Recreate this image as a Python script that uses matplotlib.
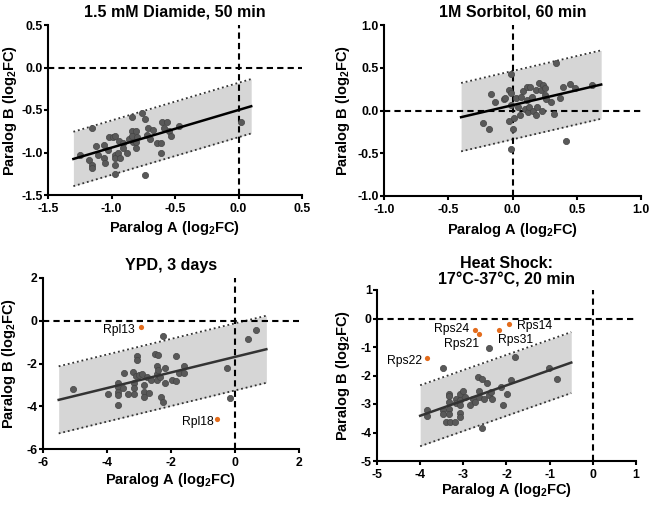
import matplotlib
matplotlib.use("Agg")
import matplotlib.pyplot as plt
import numpy as np

plt.rcParams['font.family'] = ['Liberation Sans', 'DejaVu Sans']
plt.rcParams['axes.unicode_minus'] = False
plt.rcParams['mathtext.fontset'] = 'custom'
plt.rcParams['mathtext.rm'] = 'Liberation Sans:bold'

# ---- panel 1: 1.5 mM Diamide, 50 min
dia_x = [-1.25, -1.18, -1.15, -1.15, -1.15, -1.12, -1.11, -1.06, -1.06, -1.05, -1.03, -1.02,
         -0.99, -0.97, -0.97, -0.97, -0.97, -0.97, -0.95, -0.94, -0.93, -0.91, -0.91, -0.88,
         -0.86, -0.84, -0.84, -0.84, -0.83, -0.81, -0.81, -0.81, -0.80, -0.76, -0.74, -0.74,
         -0.72, -0.71, -0.70, -0.67, -0.64, -0.61, -0.61, -0.60, -0.59, -0.56, -0.55, -0.53,
         -0.47, 0.02]
dia_y = [-1.03, -1.09, -1.15, -1.18, -0.71, -0.92, -1.03, -0.91, -1.06, -1.12, -0.97, -0.82,
         -0.82, -0.80, -1.03, -1.07, -1.15, -1.25, -1.01, -0.86, -1.07, -0.89, -0.95, -1.00,
         -0.84, -0.58, -0.75, -0.80, -0.88, -0.75, -0.88, -0.95, -0.82, -0.53, -0.61, -1.27,
         -0.79, -0.71, -0.84, -0.74, -0.89, -0.89, -1.00, -0.64, -0.71, -0.64, -0.75, -0.80,
         -0.69, -0.64]

# ---- panel 2: 1M Sorbitol, 60 min
sor_x = [-0.23, -0.18, -0.17, -0.14, -0.07, -0.06, -0.03, -0.03, -0.01, -0.01, -0.01, 0.00,
         -0.01, 0.01, 0.03, 0.04, 0.06, 0.07, 0.08, 0.10, 0.11, 0.11, 0.12, 0.13, 0.14, 0.15,
         0.16, 0.18, 0.18, 0.19, 0.21, 0.22, 0.23, 0.24, 0.25, 0.25, 0.26, 0.30, 0.32, 0.34,
         0.37, 0.39, 0.42, 0.45, 0.49, 0.62]
sor_y = [-0.15, -0.22, 0.19, 0.10, 0.13, 0.15, 0.24, -0.12, 0.43, 0.20, 0.06, -0.22,
         -0.45, -0.09, 0.15, 0.04, -0.05, 0.16, 0.23, 0.02, 0.28, 0.12, -0.02, 0.04, 0.28, 0.16,
         0.00, 0.24, -0.05, 0.04, 0.32, 0.24, 0.00, 0.30, 0.26, 0.18, 0.14, 0.10, -0.04, 0.55,
         0.15, 0.28, -0.36, 0.31, 0.26, 0.30]

# ---- panel 3: YPD, 3 days
ypd_x = [-5.06, -3.98, -3.67, -3.67, -3.67, -3.67, -3.67, -3.49, -3.47, -3.33, -3.20, -3.17,
         -3.17, -3.17, -3.09, -3.07, -3.07, -2.99, -2.92, -2.84, -2.84, -2.84, -2.76, -2.70,
         -2.63, -2.49, -2.45, -2.45, -2.45, -2.40, -2.40, -2.34, -2.31, -2.26, -2.24, -2.19,
         -2.19, -1.98, -1.84, -1.84, -1.75, -1.59, -1.59, -0.26, -0.16, 0.41, 0.67]
ypd_y = [-3.17, -3.45, -2.89, -3.08, -3.31, -3.48, -3.94, -3.16, -2.45, -3.45, -2.38, -2.92,
         -3.16, -3.45, -2.58, -1.64, -1.83, -2.53, -2.48, -3.00, -3.31, -3.55, -2.64, -3.36,
         -2.75, -1.55, -2.11, -2.48, -2.77, -1.61, -2.30, -2.61, -3.59, -0.70, -3.78, -2.22,
         -2.92, -2.77, -1.67, -2.81, -2.45, -2.11, -2.45, -2.23, -3.63, -0.86, -0.42]
ypd_hit_x = [-2.95, -0.56]
ypd_hit_y = [-0.27, -4.61]
ypd_hit_names = ['Rpl13', 'Rpl18']

# ---- panel 4: Heat shock
hs_x = [-3.84, -3.84, -3.48, -3.48, -3.48, -3.41, -3.33, -3.33, -3.33, -3.33, -3.33, -3.31,
        -3.20, -3.17, -3.17, -3.08, -3.08, -3.08, -3.08, -3.07, -3.00, -2.95, -2.85, -2.77,
        -2.73, -2.65, -2.64, -2.64, -2.56, -2.56, -2.52, -2.46, -2.40, -2.40, -2.35, -2.33,
        -2.13, -2.07, -1.99, -1.90, -1.80, -1.01, -0.84]
hs_y = [-3.20, -3.41, -1.73, -3.20, -3.34, -3.64, -2.64, -2.73, -2.93, -3.16, -3.34, -3.64,
        -3.64, -2.81, -2.96, -2.64, -2.85, -3.05, -3.30, -3.46, -2.54, -2.75, -3.05, -2.81,
        -2.93, -2.05, -2.55, -2.75, -2.11, -3.84, -2.81, -2.26, -2.67, -1.03, -2.58, -2.84,
        -2.40, -3.05, -2.64, -2.17, -1.35, -1.73, -2.11]
hs_hit_x = [-3.84, -2.73, -2.64, -2.18, -1.95]
hs_hit_y = [-1.37, -0.41, -0.55, -0.41, -0.18]

# fit: slope, intercept, x start, x end, half width of band
fits = [(0.443, -0.50, -1.30, 0.10, 0.32),
        (0.350, 0.062, -0.40, 0.69, 0.40),
        (0.365, -1.69, -5.51, 0.98, 1.57),
        (0.533, -1.28, -4.00, -0.50, 1.07)]

titles = ['1.5 mM Diamide, 50 min', '1M Sorbitol, 60 min', 'YPD, 3 days',
          'Heat Shock:\n17\u00b0C-37\u00b0C, 20 min']
xlims = [(-1.5, 0.5), (-1.0, 1.0), (-6, 2), (-5, 1)]
ylims = [(-1.5, 0.5), (-1.0, 1.0), (-6, 2), (-5, 1)]
xticks = [np.arange(-1.5, 0.51, 0.5), np.arange(-1.0, 1.01, 0.5), np.arange(-6, 3, 2), np.arange(-5, 2, 1)]
yticks = xticks
fmts = ['%.1f', '%.1f', '%d', '%d']

W, H = 650, 505
# axes boxes in pixels: left, right, top, bottom
px_boxes = [(48, 302, 25, 195), (384, 641, 25, 196), (43, 299, 278, 449), (377, 636, 290, 461)]
# label offsets in pixels (ylabel center left of spine, xlabel center below spine)
ylab_off = [38, 41, 34, 34]
xlab_off = [33, 34, 31, 29]
title_pad = [6, 6, 6, 4]

grey = '#595959'
orange = '#E36C1C'

fig = plt.figure(figsize=(6.5, 5.05), dpi=100)
data = [(dia_x, dia_y), (sor_x, sor_y), (ypd_x, ypd_y), (hs_x, hs_y)]

axes = []
for i in range(4):
    l, r, t, b_ = px_boxes[i]
    ax = fig.add_axes([l / W, 1 - b_ / H, (r - l) / W, (b_ - t) / H])
    axes.append(ax)
    k, b, x0, x1, hw = fits[i]
    xf = np.array([x0, x1])
    yf = k * xf + b
    ax.fill_between(xf, yf - hw, yf + hw, color='#d6d6d6', lw=0, zorder=1)
    ax.plot(xf, yf + hw, color='#333333', lw=1.3, ls=(0, (1, 1.6)), zorder=2)
    ax.plot(xf, yf - hw, color='#333333', lw=1.3, ls=(0, (1, 1.6)), zorder=2)
    ax.axhline(0, color='black', lw=1.5, ls=(0, (3, 2)), zorder=3)
    ax.axvline(0, color='black', lw=1.5, ls=(0, (3, 2)), zorder=3)
    ax.scatter(data[i][0], data[i][1], s=20, color=grey, edgecolor='#444444', lw=0.5, zorder=4)
    ax.plot(xf, yf, color='black' if i < 2 else '#333333', lw=1.8, zorder=5)

    ax.set_xlim(*xlims[i])
    ax.set_ylim(*ylims[i])
    ax.set_xticks(xticks[i])
    ax.set_yticks(yticks[i])
    ax.set_xticklabels([fmts[i] % v for v in xticks[i]])
    ax.set_yticklabels([fmts[i] % v for v in yticks[i]])
    for s in ['top', 'right']:
        ax.spines[s].set_visible(False)
    for s in ['left', 'bottom']:
        ax.spines[s].set_linewidth(1.5)
    ax.tick_params(width=1.5, length=3, labelsize=8.8)
    ax.tick_params(axis='y', pad=0.8)
    ax.tick_params(axis='x', pad=3)
    for lab in ax.get_xticklabels() + ax.get_yticklabels():
        lab.set_fontweight('bold')
    ax.set_xlabel('Paralog A (log$_\\mathregular{2}$FC)', fontsize=10.5, fontweight='bold', va='center')
    ax.set_ylabel('Paralog B (log$_\\mathregular{2}$FC)', fontsize=10.5, fontweight='bold', va='center')
    ax.xaxis.set_label_coords(0.5, -xlab_off[i] / (b_ - t))
    ax.yaxis.set_label_coords(-ylab_off[i] / (r - l), 0.5)
    ax.set_title(titles[i], fontsize=11.5, fontweight='bold', pad=title_pad[i], linespacing=1.15)

# highlighted genes
ax = axes[2]
ax.scatter(ypd_hit_x, ypd_hit_y, s=14, color=orange, lw=0, zorder=6)
ax.text(-3.12, -0.45, 'Rpl13', ha='right', va='center', fontsize=8.7)
ax.text(-0.66, -4.73, 'Rpl18', ha='right', va='center', fontsize=8.7)

ax = axes[3]
ax.scatter(hs_hit_x, hs_hit_y, s=14, color=orange, lw=0, zorder=6)
ax.text(-3.96, -1.49, 'Rps22', ha='right', va='center', fontsize=8.7)
ax.text(-2.87, -0.375, 'Rps24', ha='right', va='center', fontsize=8.7)
ax.text(-3.04, -0.90, 'Rps21', ha='center', va='center', fontsize=8.7)
ax.text(-1.75, -0.27, 'Rps14', ha='left', va='center', fontsize=8.7)
ax.text(-1.80, -0.76, 'Rps31', ha='center', va='center', fontsize=8.7)

fig.savefig('out.png', dpi=100)
